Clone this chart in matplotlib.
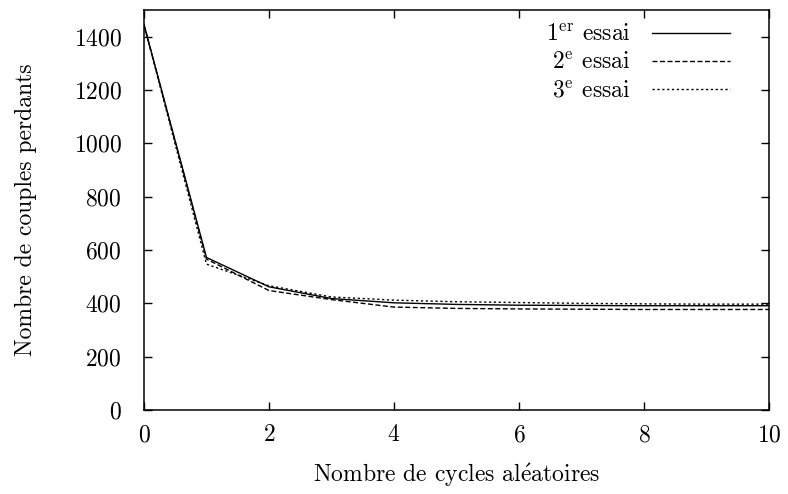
import matplotlib
matplotlib.use("Agg")
import matplotlib.pyplot as plt

# nombre de cycles aleatoires
cycles = [0, 1, 2, 3, 4, 5, 6, 7, 8, 9, 10]

# couples perdants pour chaque essai
essai_1 = [1445, 572, 462, 418, 402, 396, 393, 392, 391, 391, 391]
essai_2 = [1445, 566, 448, 414, 386, 381, 379, 378, 377, 377, 377]
essai_3 = [1445, 547, 466, 424, 412, 406, 403, 400, 398, 397, 397]

labels = [r"1$^{\mathrm{er}}$ essai", r"2$^{\mathrm{e}}$ essai", r"3$^{\mathrm{e}}$ essai"]

x_ticks = [0, 2, 4, 6, 8, 10]
y_ticks = [0, 200, 400, 600, 800, 1000, 1200, 1400]

plt.rcParams["font.family"] = ["cmr10", "DejaVu Serif"]
plt.rcParams["mathtext.fontset"] = "cm"
plt.rcParams["axes.formatter.use_mathtext"] = True

fig = plt.figure(figsize=(7.88, 4.94), dpi=100)
ax = fig.add_axes([0.1827, 0.170, 0.7932, 0.8098])

ax.plot(cycles, essai_1, color="black", lw=1.0, label=labels[0])
ax.plot(cycles, essai_2, color="black", lw=1.0, dashes=(3.6, 1.8), label=labels[1])
ax.plot(cycles, essai_3, color="black", lw=1.0, dashes=(1.6, 1.9), label=labels[2])

ax.set_xlim(0, 10)
ax.set_ylim(0, 1500)
ax.set_xticks(x_ticks)
ax.set_yticks(y_ticks)
ax.tick_params(direction="in", length=6, width=1, top=True, right=True,
               labelsize=17)
ax.tick_params(axis="x", pad=10)
ax.tick_params(axis="y", pad=16)
for s in ax.spines.values():
    s.set_linewidth(1.1)

ax.set_xlabel(r"Nombre de cycles al$\acute{\mathrm{e}}$atoires", fontsize=17, labelpad=11)
ax.set_ylabel("Nombre de couples perdants", fontsize=17, labelpad=26)

ax.legend(loc="upper right", frameon=False, markerfirst=False, fontsize=17,
          handlelength=3.3, handletextpad=0.9, labelspacing=0.25,
          borderaxespad=0.2, bbox_to_anchor=(0.96, 1.0))

fig.savefig("out.png", dpi=100)
